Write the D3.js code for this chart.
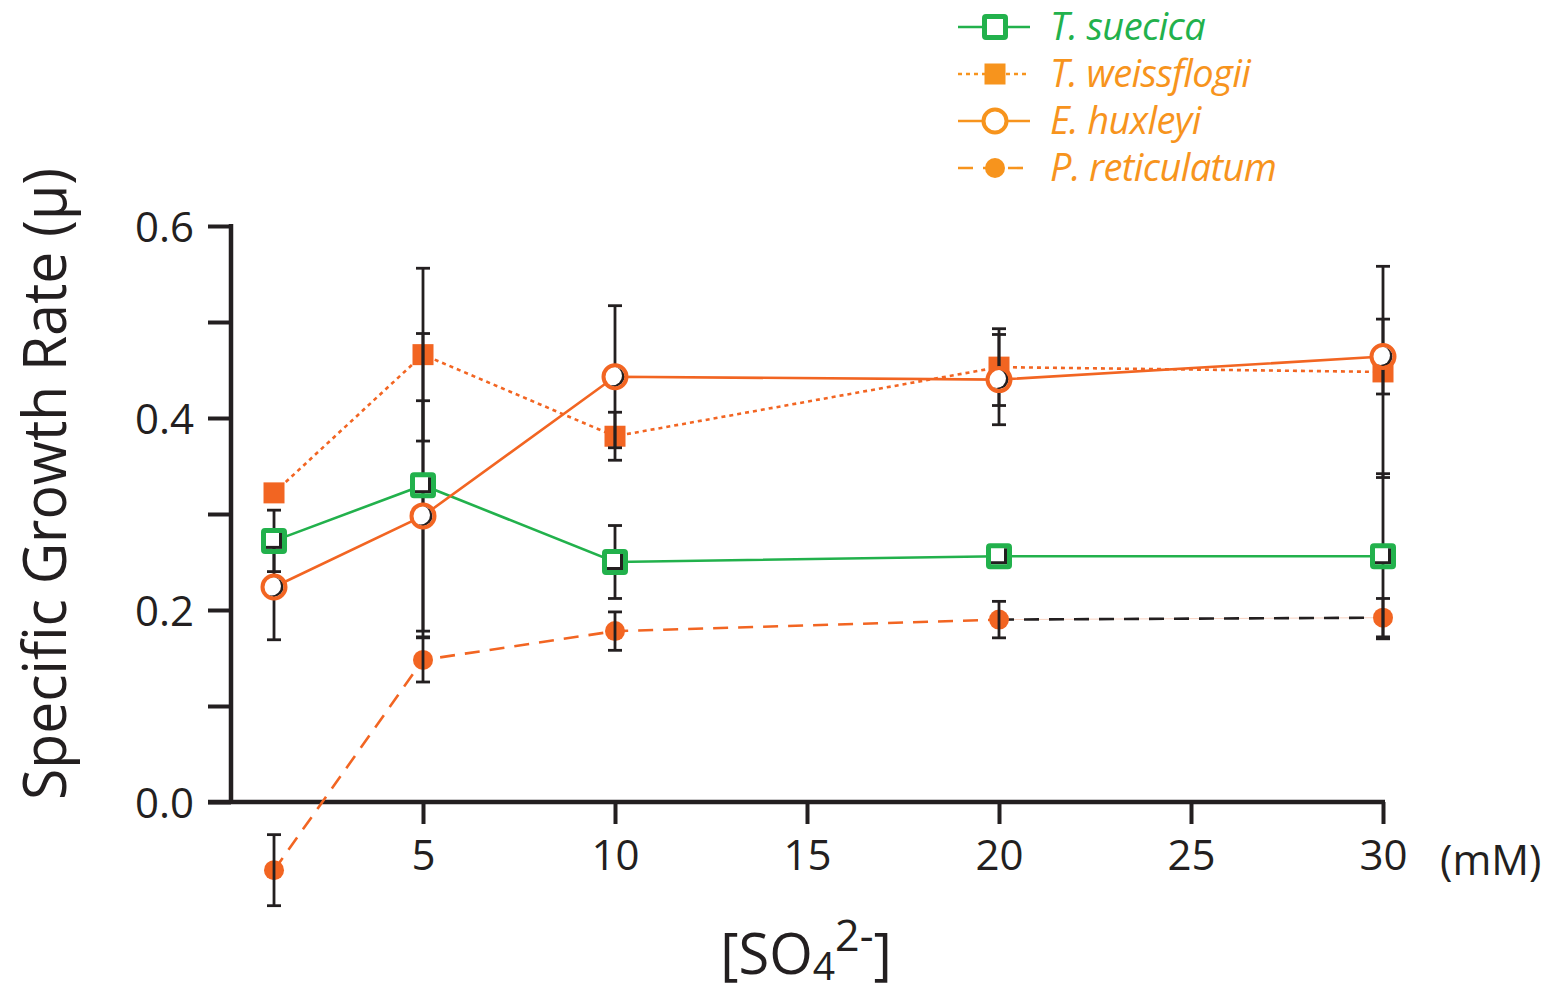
<!DOCTYPE html>
<html lang="en">
	<head>
		<meta charset="UTF-8" />
		<title>growth rate vs sulfate</title>
		<script src="https://cdn.jsdelivr.net/npm/d3@7/dist/d3.min.js"></script>
		<style>
			body { margin: 0; background: #fff; }
			svg { display: block; font-family: "Open Sans", "Noto Sans", sans-serif; }
		</style>
	</head>
	<body>
		<svg id="svg"></svg>
	</body>

	<script>
		// data
		const conc = [1.12, 5, 10, 20, 30];
		const xTicks = [5, 10, 15, 20, 25, 30];
		const yTicks = [0, 0.1, 0.2, 0.3, 0.4, 0.5, 0.6];

		const suecica = [0.272, 0.33, 0.25, 0.256, 0.256];
		const suecicaErr = [0.032, 0.158, 0.038, 0, 0.086];
		const weissflogii = [0.322, 0.466, 0.381, 0.453, 0.448];
		const weissflogiiErr = [0, 0.09, 0.025, 0.04, 0.11];
		const huxleyi = [0.224, 0.298, 0.443, 0.44, 0.464];
		const huxleyiErr = [0.055, 0.12, 0.074, 0.047, 0.039];
		const reticulatum = [-0.071, 0.148, 0.178, 0.19, 0.192];
		const reticulatumErr = [0.037, 0.023, 0.02, 0.019, 0.02];

		const names = ["T. suecica", "T. weissflogii", "E. huxleyi", "P. reticulatum"];

		const width = 1556;
		const height = 993;
		const black = "#231f20";
		const green = "#22b14c";
		const red = "#f26522";
		const orange = "#f7941d";

		const series = [
			{ name: names[0], vals: suecica, err: suecicaErr, color: green, legendColor: green, dash: null, marker: "openSquare" },
			{ name: names[1], vals: weissflogii, err: weissflogiiErr, color: red, legendColor: orange, dash: "4,4", marker: "square" },
			{ name: names[2], vals: huxleyi, err: huxleyiErr, color: red, legendColor: orange, dash: null, marker: "openCircle" },
			{ name: names[3], vals: reticulatum, err: reticulatumErr, color: red, legendColor: orange, dash: "15,10", marker: "dot", lastSeg: black }
		];

		const svg = d3.select("#svg").attr("width", width).attr("height", height);

		const x = d3.scaleLinear().domain([0, 30]).range([231, 1383]);
		const y = d3.scaleLinear().domain([0, 0.6]).range([802, 226]);

		// axes
		const yAxis = svg.append("g")
			.attr("transform", `translate(${x(0)},0)`)
			.call(d3.axisLeft(y).tickValues(yTicks).tickSize(23).tickPadding(14)
				.tickFormat((d, i) => (i % 2 === 0 ? d3.format(".1f")(d) : "")));
		yAxis.select(".domain").remove();
		yAxis.selectAll("line").attr("stroke", black).attr("stroke-width", 4);
		yAxis.selectAll("text").attr("fill", black).style("font-size", "42px")
			.style("font-family", "Open Sans").attr("dy", "0.36em");

		const xAxis = svg.append("g")
			.attr("transform", `translate(0,${y(0)})`)
			.call(d3.axisBottom(x).tickValues(xTicks).tickSize(22).tickPadding(14));
		xAxis.select(".domain").remove();
		xAxis.selectAll("line").attr("stroke", black).attr("stroke-width", 4);
		xAxis.selectAll("text").attr("fill", black).style("font-size", "42px")
			.style("font-family", "Open Sans").attr("dy", "0.75em");

		svg.append("line")
			.attr("x1", x(0)).attr("x2", x(0))
			.attr("y1", y(0.6) - 2).attr("y2", y(0) + 2)
			.attr("stroke", black).attr("stroke-width", 4.5);
		svg.append("line")
			.attr("x1", x(0) - 23).attr("x2", x(30) + 2)
			.attr("y1", y(0)).attr("y2", y(0))
			.attr("stroke", black).attr("stroke-width", 4.5);

		svg.append("text")
			.attr("x", 1440).attr("y", 875)
			.attr("fill", black).style("font-size", "42px")
			.text("(mM)");

		// axis titles
		svg.append("text")
			.attr("transform", "translate(66,800) rotate(-90)")
			.attr("fill", black).style("font-size", "60px")
			.attr("textLength", 632).attr("lengthAdjust", "spacingAndGlyphs")
			.text("Specific Growth Rate (μ)");

		const xt = svg.append("text")
			.attr("x", 806).attr("y", 974)
			.attr("text-anchor", "middle")
			.attr("fill", black).style("font-size", "56px");
		xt.append("tspan").text("[SO");
		xt.append("tspan").attr("dy", 6).style("font-size", "39px").text("4");
		xt.append("tspan").attr("dy", -29).style("font-size", "43px").text("2-");
		xt.append("tspan").attr("dy", 23).text("]");

		// lines
		const line = d3.line().x((d) => x(d[0])).y((d) => y(d[1]));
		series.forEach((s) => {
			const pts = conc.map((c, i) => [c, s.vals[i]]);
			const n = s.lastSeg ? pts.length - 1 : pts.length;
			svg.append("path")
				.attr("d", line(pts.slice(0, n)))
				.attr("fill", "none")
				.attr("stroke", s.color)
				.attr("stroke-width", 2.6)
				.attr("stroke-dasharray", s.dash);
			if (s.lastSeg) {
				svg.append("path")
					.attr("d", line(pts.slice(n - 1)))
					.attr("fill", "none")
					.attr("stroke", "#f9d3c2")
					.attr("stroke-width", 1);
				svg.append("path")
					.attr("d", line(pts.slice(n - 1)))
					.attr("fill", "none")
					.attr("stroke", s.lastSeg)
					.attr("stroke-width", 2.6)
					.attr("stroke-dasharray", s.dash);
			}
		});

		function drawMarker(g, type, color, cx, cy, shadow) {
			if (type === "square") {
				g.append("rect").attr("x", cx - 10.5).attr("y", cy - 10.5)
					.attr("width", 21).attr("height", 21).attr("fill", color);
			} else if (type === "dot") {
				g.append("circle").attr("cx", cx).attr("cy", cy).attr("r", 10).attr("fill", color);
			} else if (type === "openSquare") {
				if (shadow) {
					g.append("rect").attr("x", cx - 8).attr("y", cy - 8)
						.attr("width", 16).attr("height", 16).attr("fill", black);
					g.append("rect").attr("x", cx - 11).attr("y", cy - 11)
						.attr("width", 16).attr("height", 16).attr("fill", "#fff");
				} else {
					g.append("rect").attr("x", cx - 10.5).attr("y", cy - 10.5)
						.attr("width", 21).attr("height", 21).attr("fill", "#fff");
				}
				g.append("rect").attr("x", cx - 10.5).attr("y", cy - 10.5)
					.attr("width", 21).attr("height", 21).attr("rx", 1.5)
					.attr("fill", "none").attr("stroke", color).attr("stroke-width", 5);
			} else if (type === "openCircle") {
				if (shadow) {
					g.append("circle").attr("cx", cx).attr("cy", cy).attr("r", 9.5).attr("fill", black);
					g.append("circle").attr("cx", cx - 2.5).attr("cy", cy - 1).attr("r", 9.5).attr("fill", "#fff");
				} else {
					g.append("circle").attr("cx", cx).attr("cy", cy).attr("r", 11.5).attr("fill", "#fff");
				}
				g.append("circle").attr("cx", cx).attr("cy", cy).attr("r", 11.5)
					.attr("fill", "none").attr("stroke", color).attr("stroke-width", 4);
			}
		}

		// filled markers under error bars, open markers on top
		const filled = series.filter((s) => s.marker === "square" || s.marker === "dot");
		const open = series.filter((s) => s.marker === "openSquare" || s.marker === "openCircle");

		const gFilled = svg.append("g");
		filled.forEach((s) => {
			s.vals.forEach((v, i) => drawMarker(gFilled, s.marker, s.color, x(conc[i]), y(v), false));
		});

		const gErr = svg.append("g").attr("stroke", black).attr("stroke-width", 2.8);
		series.forEach((s) => {
			s.vals.forEach((v, i) => {
				const e = s.err[i];
				if (!e) return;
				const cx = x(conc[i]);
				gErr.append("line").attr("x1", cx).attr("x2", cx).attr("y1", y(v + e)).attr("y2", y(v - e));
				gErr.append("line").attr("x1", cx - 7).attr("x2", cx + 7).attr("y1", y(v + e)).attr("y2", y(v + e));
				gErr.append("line").attr("x1", cx - 7).attr("x2", cx + 7).attr("y1", y(v - e)).attr("y2", y(v - e));
			});
		});

		const gOpen = svg.append("g");
		open.forEach((s) => {
			s.vals.forEach((v, i) => drawMarker(gOpen, s.marker, s.color, x(conc[i]), y(v), true));
		});

		// legend
		const legend = svg.append("g");
		series.forEach((s, i) => {
			const base = 40 + i * 47;
			const cy = base - 13;
			legend.append("line")
				.attr("x1", 958).attr("x2", 1030).attr("y1", cy).attr("y2", cy)
				.attr("stroke", s.legendColor).attr("stroke-width", 2.6)
				.attr("stroke-dasharray", s.dash);
			drawMarker(legend, s.marker, s.legendColor, 995, cy, false);
			legend.append("text")
				.attr("x", 1050).attr("y", base)
				.attr("fill", s.legendColor)
				.style("font-size", "38px").style("font-style", "italic")
				.style("letter-spacing", "-0.6px")
				.text(s.name);
		});
	</script>
</html>
